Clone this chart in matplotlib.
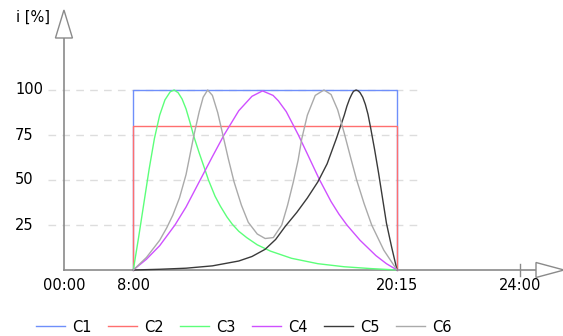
import matplotlib
matplotlib.use('Agg')
import matplotlib.pyplot as plt
from matplotlib.patches import Polygon
from matplotlib.lines import Line2D

plt.rcParams['font.family'] = ['DejaVu Sans']

# x axis: 0 = 8:00, 1 = 20:15 (axis is not linear in time)
tick_labels = ['00:00', '8:00', '20:15', '24:00']
tick_pos = [-0.263, 0.0, 1.0, 1.466]
y_ticks = [25, 50, 75, 100]

c1_t = [0, 0, 1, 1]
c1_v = [0, 100, 100, 0]
c2_t = [0, 0, 1, 1]
c2_v = [0, 80, 80, 0]

c3_t = [0, 0.02, 0.04, 0.06, 0.08, 0.10, 0.12, 0.14, 0.155, 0.17, 0.185, 0.2, 0.215,
        0.23, 0.25, 0.27, 0.285, 0.31, 0.33, 0.355, 0.375, 0.4, 0.43, 0.47, 0.52,
        0.6, 0.7, 0.8, 0.9, 1.0]
c3_v = [0, 18, 37, 56, 73, 86, 94.5, 99, 100, 98.5, 95, 89.5, 82,
        74, 65, 56.5, 50, 41, 35.5, 29.5, 25.5, 21.5, 18, 14, 10.5,
        6.5, 3.5, 1.8, 0.8, 0]

c4_t = [0, 0.05, 0.1, 0.158, 0.2, 0.25, 0.3, 0.344, 0.4, 0.45, 0.49, 0.53, 0.55,
        0.58, 0.626, 0.66, 0.705, 0.75, 0.78, 0.81, 0.86, 0.92, 0.96, 1.0]
c4_v = [0, 6, 13.5, 25, 35, 49, 63, 75, 88.5, 96.5, 99.5, 97, 94,
        88, 75, 64.5, 50.5, 38, 31, 25, 16.5, 8, 3.5, 0]

c5_t = [0, 0.1, 0.2, 0.3, 0.4, 0.45, 0.5, 0.54, 0.575, 0.62, 0.66, 0.7, 0.735,
        0.77, 0.8, 0.81, 0.82, 0.828, 0.835, 0.845, 0.853, 0.86, 0.87, 0.88,
        0.89, 0.9, 0.915, 0.93, 0.96, 0.98, 1.0]
c5_v = [0, 0.4, 1, 2.3, 5, 7.5, 11.5, 17, 24, 32, 40, 49, 59,
        73, 86, 91, 95, 97.5, 99.3, 100, 99.5, 98.5, 96, 92,
        86.5, 79, 67, 54, 26, 12.5, 0]

c6_t = [0, 0.05, 0.1, 0.127, 0.15, 0.175, 0.2, 0.215, 0.23, 0.25, 0.265, 0.282,
        0.3, 0.32, 0.335, 0.36, 0.382, 0.41, 0.436, 0.47, 0.5, 0.531, 0.563,
        0.585, 0.607, 0.625, 0.639, 0.66, 0.69, 0.723, 0.75, 0.775, 0.8, 0.825,
        0.847, 0.875, 0.904, 0.95, 1.0]
c6_v = [0, 7, 16.5, 23.5, 30.5, 40, 53, 64, 75, 88, 96, 100,
        97, 87.5, 78, 62, 49, 36, 26.5, 20, 17.5, 18, 25,
        36, 49, 61, 73, 86, 97, 100, 97.5, 89, 76, 62,
        50, 37, 25, 11, 0]

names = ['C1', 'C2', 'C3', 'C4', 'C5', 'C6']
colors = ['#6f8ffa', '#ff6f6f', '#5cff7a', '#cf50ff', '#3a3a3a', '#aaaaaa']
series = [(c1_t, c1_v), (c2_t, c2_v), (c3_t, c3_v),
          (c4_t, c4_v), (c5_t, c5_v), (c6_t, c6_v)]

# figure pixel geometry: 8:00 at x=133.3px, 20:15 at 397px, value 0 at y=270px
W, H = 563, 336
kx, ky = 263.7, 1.8
x0px, y0px = 133.3, 270.0


def tx(px):
    return (px - x0px) / kx


def vy(py):
    return (y0px - py) / ky


fig = plt.figure(figsize=(W / 100, H / 100), dpi=100)
ax = fig.add_axes([0, 0, 1, 1])
ax.set_xlim(tx(0), tx(W))
ax.set_ylim(vy(H), vy(0))
ax.axis('off')

axis_col = '#8a8a8a'
ax_x = tick_pos[0]

# grid
ax.hlines(y_ticks, tx(48), tx(422), colors='#dddddd', lw=1,
          linestyles=(0, (5.5, 4.5)), zorder=1)

# axes lines
ax.plot([ax_x, ax_x], [0, vy(38)], color=axis_col, lw=1.2, zorder=2)
ax.plot([ax_x, tx(536)], [0, 0], color=axis_col, lw=1.2, zorder=2)
ax.add_patch(Polygon([(ax_x, vy(10)), (ax_x - 8.5 / kx, vy(38)), (ax_x + 8.5 / kx, vy(38))],
                     closed=True, fc='white', ec=axis_col, lw=1, zorder=2))
ax.add_patch(Polygon([(tx(564), 0), (tx(536), 7.5 / ky), (tx(536), -7.5 / ky)],
                     closed=True, fc='white', ec=axis_col, lw=1, zorder=2,
                     clip_on=False))
ax.plot([tick_pos[3], tick_pos[3]], [vy(276), vy(264)], color=axis_col, lw=1, zorder=2)

# curves
for (t, v), c in zip(series, colors):
    ax.plot(t, v, color=c, lw=1, zorder=3)

# labels
fs = 10.5
ax.text(tx(16.5), vy(17.5), 'i [%]', fontsize=fs, ha='left', va='center')
for v in y_ticks:
    ax.text(tx(15), v, str(v), fontsize=fs, ha='left', va='center')
for p, lab in zip(tick_pos, tick_labels):
    ax.text(p, vy(285.7), lab, fontsize=fs, ha='center', va='center')

handles = [Line2D([], [], color=c, lw=1) for c in colors]
fig.legend(handles, names, loc='center', bbox_to_anchor=(243.5 / W, 1 - 327 / H),
           ncol=6, frameon=False, fontsize=fs, handlelength=1.99,
           handletextpad=0.48, columnspacing=1.13)

fig.savefig('out.png', dpi=100)
